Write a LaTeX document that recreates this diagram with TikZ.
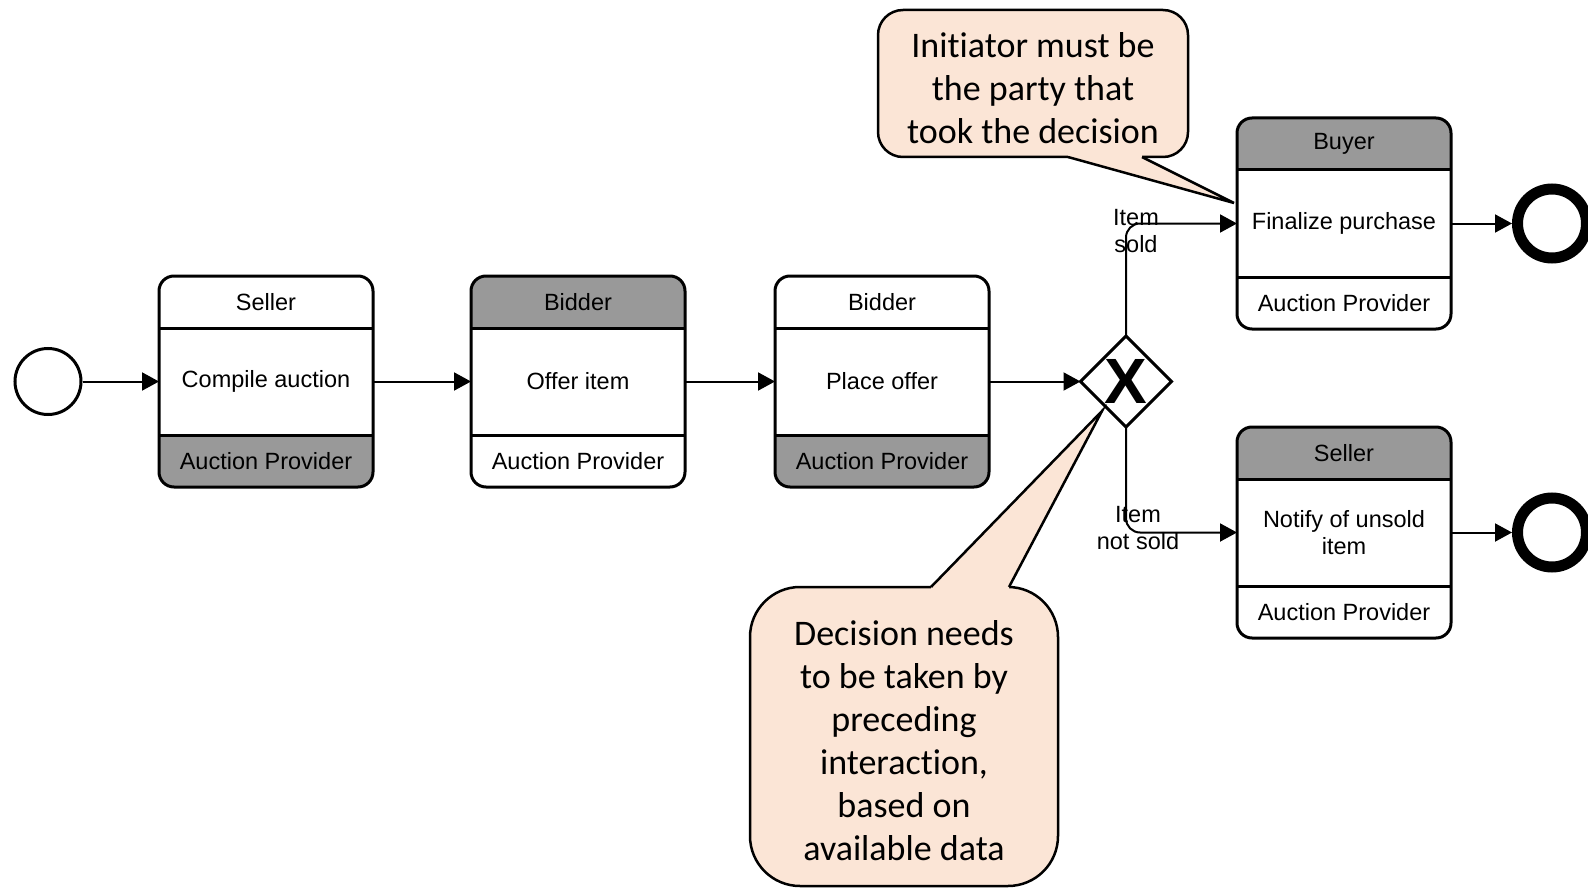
\documentclass[tikz,border=0pt]{standalone}
\usepackage{fontspec}
\setmainfont{Liberation Sans}
\newfontfamily\notefont[Ligatures={NoCommon,NoContextual},Contextuals=NoAlternate]{Carlito}
\usetikzlibrary{arrows.meta,shapes.geometric,positioning}
\definecolor{notefill}{HTML}{FBE5D6}
\definecolor{partgray}{HTML}{999999}

\begin{document}
\begin{tikzpicture}[x=1pt,y=-1pt,
    taskbox/.style={draw,line width=3pt,rounded corners=15pt,minimum width=214pt,minimum height=211pt,inner sep=0pt,outer sep=0pt},
    tasktext/.style={font=\fontsize{23.5}{27}\selectfont,align=center,inner sep=0pt},
    flow/.style={line width=2pt,-{Triangle[length=17pt,width=18pt]}},
    note/.style={fill=notefill,draw,line width=2.5pt},
    notetext/.style={font=\notefont\fontsize{36}{43}\selectfont,align=center}]
    \useasboundingbox (0,0) rectangle (1588,888);

    % start and gateway
    \node[circle,draw,line width=3pt,minimum size=66pt,inner sep=0pt] (start) at (48,381.5) {};
    \node[diamond,draw,line width=3pt,minimum width=91pt,minimum height=91pt,inner sep=0pt,outer sep=0pt] (gw) at (1126,381.5) {};
    \node[font=\fontsize{64}{64}\selectfont\bfseries] (gwx) at (gw.center) {X};

    % choreography tasks
    \foreach \n/\x/\y/\hd/\bd/\ft/\hc/\fc in {
        t1/159/276/Seller/Compile auction/Auction Provider/white/partgray,
        t2/471/276/Bidder/Offer item/Auction Provider/partgray/white,
        t3/775/276/Bidder/Place offer/Auction Provider/white/partgray,
        sold/1237/118/Buyer/Finalize purchase/Auction Provider/partgray/white,
        unsold/1237/427/Seller/{Notify of unsold\\item}/Auction Provider/partgray/white}{
        \begin{scope}
            \clip[rounded corners=15pt] (\x,\y) rectangle ++(214,211);
            \fill[\hc] (\x,\y) rectangle ++(214,52);
            \fill[\fc] (\x,\y) ++(0,159) rectangle ++(214,52);
        \end{scope}
        \node[taskbox,anchor=north west] (\n) at (\x,\y) {};
        \draw[line width=3pt] ([yshift=-52pt]\n.north west) -- ([yshift=-52pt]\n.north east);
        \draw[line width=3pt] ([yshift=52pt]\n.south west) -- ([yshift=52pt]\n.south east);
        \node[tasktext] (\n-hd) at ([yshift=-26pt]\n.north) {\hd};
        \node[tasktext] (\n-bd) at (\n.center) {\bd};
        \node[tasktext] (\n-ft) at ([yshift=26pt]\n.south) {\ft};
    }

    % end events
    \node[circle,draw,line width=11pt,minimum size=69pt,inner sep=0pt] (endsold) at (1552,0 |- sold) {};
    \node[circle,draw,line width=11pt,minimum size=69pt,inner sep=0pt] (endunsold) at (1552,0 |- unsold) {};

    % flows
    \draw[flow] (start) -- (t1);
    \draw[flow] (t1) -- (t2);
    \draw[flow] (t2) -- (t3);
    \draw[flow] (t3) -- (gw);
    \draw[flow,rounded corners=14pt] (gw.north) |- (sold.west);
    \draw[flow,rounded corners=14pt] (gw.south) |- (unsold.west);
    \draw[flow] (sold) -- (endsold);
    \draw[flow] (unsold) -- (endunsold);
    \node[tasktext] (soldlbl) at (1136,231) {Item\\sold};
    \node[tasktext] (unsoldlbl) at (1138,528) {Item\\not sold};

    % annotations
    \draw[note,rounded corners=25pt] (878,10) rectangle (1188,157);
    \fill[notefill] (1068,157) -- (1068,150) -- (1142,150) -- (1142,157) -- (1234,203) -- cycle;
    \draw[line width=2.5pt] (1068,157) -- (1234,203) -- (1142,157);
    \node[notetext] (initnote) at (1033,88) {Initiator must be\\the party that\\took the decision};

    \draw[note,rounded corners=50pt] (750,587) rectangle (1058,886);
    \fill[notefill] (931,587) -- (931,595) -- (1009,595) -- (1009,587) -- (1102,411) -- cycle;
    \draw[line width=2.5pt] (931,587) -- (1102,411) -- (1009,587);
    \node[notetext] (decnote) at (904,741) {Decision needs\\to be taken by\\preceding\\interaction,\\based on\\available data};
\end{tikzpicture}
\end{document}
